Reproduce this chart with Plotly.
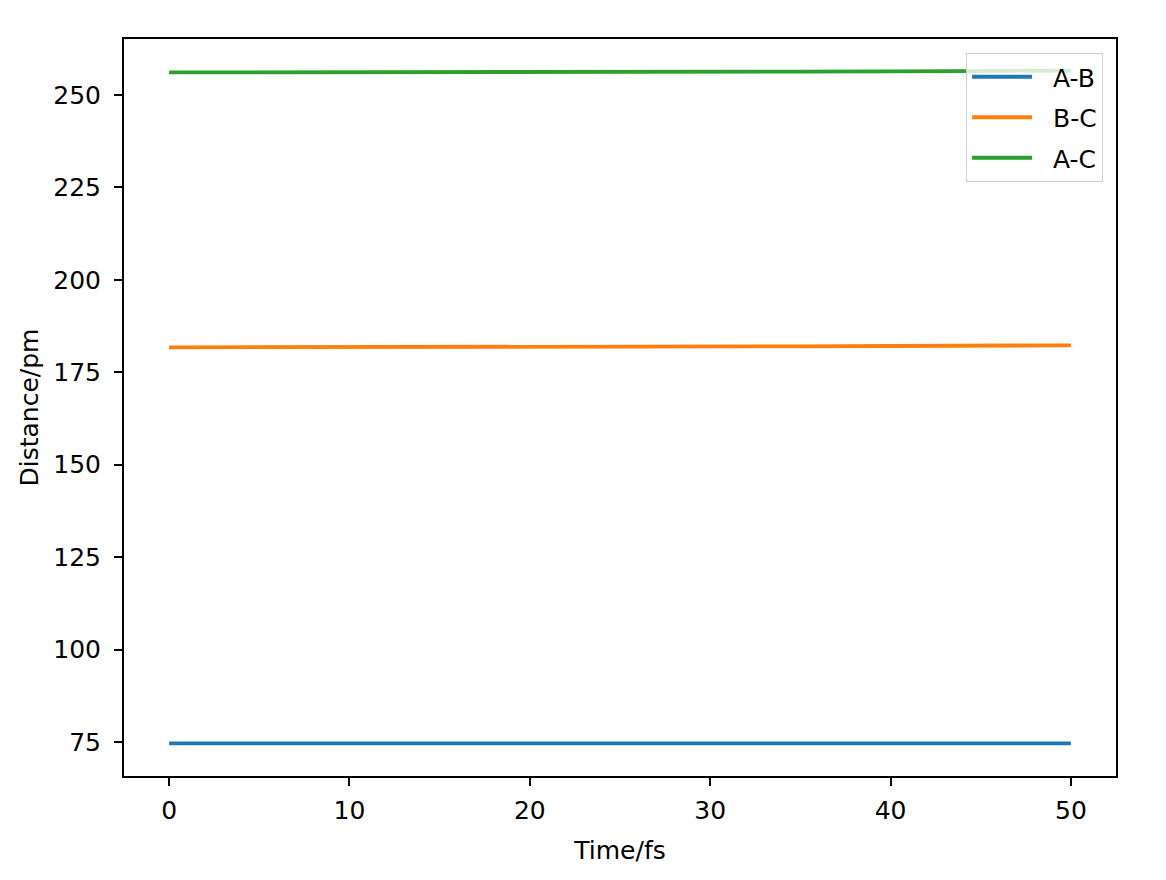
import plotly.graph_objects as go

time_fs = [0, 5, 10, 15, 20, 25, 30, 35, 40, 45, 50]
ab = [74.60, 74.60, 74.60, 74.60, 74.60, 74.60, 74.60, 74.60, 74.60, 74.60, 74.60]
bc = [181.75, 181.76, 181.78, 181.81, 181.85, 181.90, 181.96, 182.03, 182.11, 182.20, 182.30]
ac = [256.10, 256.10, 256.11, 256.13, 256.16, 256.20, 256.25, 256.32, 256.40, 256.49, 256.60]
names = ["A-B", "B-C", "A-C"]
colors = ["#1f77b4", "#ff7f0e", "#2ca02c"]
x_ticks = [0, 10, 20, 30, 40, 50]
y_ticks = [75, 100, 125, 150, 175, 200, 225, 250]

fig = go.Figure()
for i, (name, ys) in enumerate(zip(names, [ab, bc, ac])):
    fig.add_trace(go.Scatter(x=time_fs, y=ys, mode="lines", name="&nbsp;&nbsp;" + name,
                             legendgroup=name,
                             line=dict(color=colors[i], width=3.8)))

font = dict(family="DejaVu Sans", size=25, color="#000000")
axis_common = dict(showgrid=False, zeroline=False, showline=True, linecolor="#000000",
                   linewidth=2, mirror=True, ticks="outside", ticklen=8, tickwidth=2,
                   tickcolor="#000000", tickfont=font)

fig.update_layout(
    width=1166, height=880,
    margin=dict(l=116, r=58, t=31, b=112, autoexpand=False),
    paper_bgcolor="white", plot_bgcolor="white",
    font=font,
    showlegend=True,
    legend=dict(x=0.987, y=0.981, xanchor="right", yanchor="top",
                bgcolor="rgba(255,255,255,0.8)", bordercolor="#cccccc", borderwidth=1,
                font=font, tracegroupgap=5, traceorder="grouped", itemwidth=60),
    xaxis=dict(range=[-2.5, 52.5], tickvals=x_ticks, automargin=False,
               ticklabelstandoff=3,
               title=dict(text="Time/fs", font=font, standoff=17), **axis_common),
    yaxis=dict(range=[65.8, 265.15], tickvals=y_ticks, automargin=False,
               ticklabelstandoff=8,
               title=dict(text="Distance/pm", font=font, standoff=8), **axis_common),
)

fig.write_html("out.html")
